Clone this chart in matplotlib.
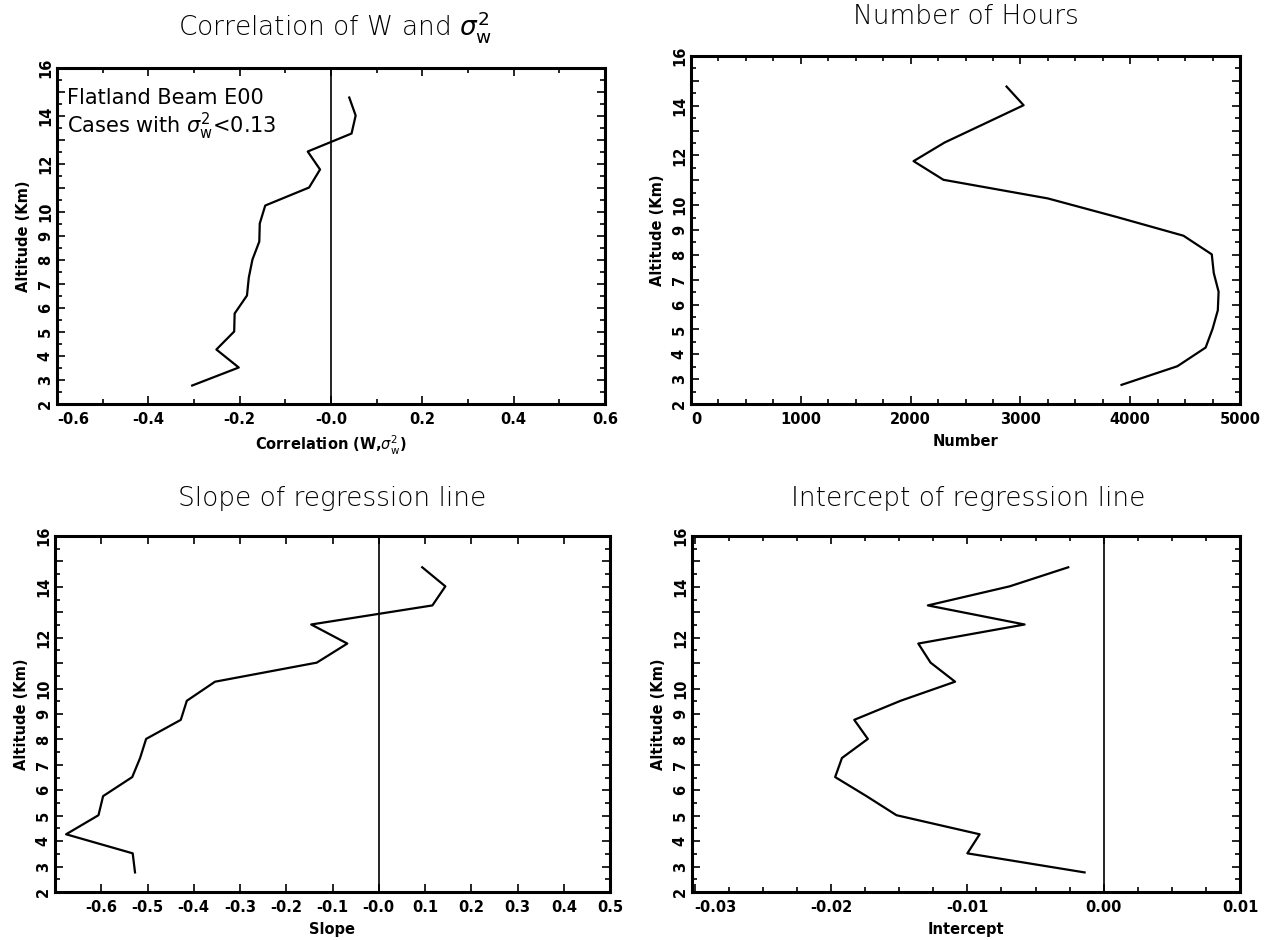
import matplotlib
matplotlib.use('Agg')
import matplotlib.pyplot as plt
from matplotlib.ticker import FixedLocator, FixedFormatter, MultipleLocator

plt.rcParams['font.family'] = ['DejaVu Sans']
plt.rcParams['mathtext.fontset'] = 'dejavusans'

# altitude levels (km), shared by all four profiles
altitude_km = [2.77, 3.52, 4.27, 5.02, 5.77, 6.52, 7.27, 8.02, 8.77,
               9.52, 10.27, 11.02, 11.77, 12.52, 13.27, 14.02, 14.77]

correlation = [-0.304, -0.202, -0.251, -0.212, -0.211, -0.184, -0.180, -0.172, -0.157,
               -0.156, -0.144, -0.048, -0.024, -0.051, 0.045, 0.054, 0.040]

n_hours = [3921, 4430, 4687, 4750, 4798, 4805, 4761, 4743, 4485,
           3880, 3250, 2299, 2027, 2310, 2670, 3029, 2874]

slope = [-0.527, -0.532, -0.676, -0.606, -0.596, -0.533, -0.516, -0.503, -0.428,
         -0.415, -0.354, -0.134, -0.068, -0.146, 0.116, 0.144, 0.094]

intercept = [-0.0014, -0.0100, -0.0091, -0.0152, -0.0174, -0.0197, -0.0192, -0.0173, -0.0183,
             -0.0149, -0.0109, -0.0127, -0.0136, -0.0058, -0.0129, -0.0069, -0.0026]

y_ticks = list(range(2, 17))
y_labels = ['2', '3', '4', '5', '6', '7', '8', '9', '10', '', '12', '', '14', '', '16']

corr_ticks = [-0.6, -0.4, -0.2, 0.0, 0.2, 0.4, 0.6]
corr_labels = ['-0.6', '-0.4', '-0.2', '-0.0', '0.2', '0.4', '0.6']
hours_ticks = [0, 1000, 2000, 3000, 4000, 5000]
hours_labels = ['0', '1000', '2000', '3000', '4000', '5000']
slope_ticks = [-0.6, -0.5, -0.4, -0.3, -0.2, -0.1, 0.0, 0.1, 0.2, 0.3, 0.4, 0.5]
slope_labels = ['-0.6', '-0.5', '-0.4', '-0.3', '-0.2', '-0.1', '-0.0',
                '0.1', '0.2', '0.3', '0.4', '0.5']
icpt_ticks = [-0.03, -0.02, -0.01, 0.0, 0.01]
icpt_labels = ['-0.03', '-0.02', '-0.01', '0.00', '0.01']

W, H = 1264, 940
fig = plt.figure(figsize=(W / 100, H / 100), dpi=100)
title_font = dict(fontsize=19, fontweight='light', ha='center', va='center')


def box(left, right, top, bottom):
    return [left / W, 1 - bottom / H, (right - left) / W, (bottom - top) / H]


def setup(ax, xlim, xticks, xlabels, xminor, xlabel, first_left=False):
    ax.set_xlim(*xlim)
    ax.set_ylim(2, 16)
    for s in ax.spines.values():
        s.set_linewidth(2.2)
    ax.xaxis.set_major_locator(FixedLocator(xticks))
    ax.xaxis.set_major_formatter(FixedFormatter(xlabels))
    if xminor:
        ax.xaxis.set_minor_locator(MultipleLocator(xminor))
    ax.yaxis.set_major_locator(FixedLocator(y_ticks))
    ax.yaxis.set_major_formatter(FixedFormatter(y_labels))
    ax.yaxis.set_minor_locator(MultipleLocator(0.5))
    ax.tick_params(which='both', direction='in', top=True, right=True, width=1.2)
    ax.tick_params(which='major', length=6, labelsize=10.5)
    ax.tick_params(which='minor', length=3.5)
    ax.tick_params(axis='x', pad=6)
    ax.tick_params(axis='y', pad=3)
    for lab in ax.get_xticklabels():
        lab.set_fontweight('bold')
    for lab in ax.get_yticklabels():
        lab.set_fontweight('bold')
        lab.set_rotation(90)
        lab.set_va('center')
    if first_left:
        ax.get_xticklabels()[0].set_ha('left')
    ax.set_xlabel(xlabel, fontsize=10.5, fontweight='bold', labelpad=5)
    ax.set_ylabel('Altitude (Km)', fontsize=10.5, fontweight='bold', labelpad=5)


lw = 1.6

# (a) correlation
ax1 = fig.add_axes(box(57, 605, 68, 404))
ax1.plot(correlation, altitude_km, color='k', lw=lw)
ax1.axvline(0, color='k', lw=1.2)
setup(ax1, (-0.6, 0.6), corr_ticks, corr_labels, 0.1,
      r'Correlation (W,$\sigma^2_\mathrm{w}$)', first_left=True)
ax1.text(0.018, 0.91, 'Flatland Beam E00', transform=ax1.transAxes,
         fontsize=15, va='center', ha='left')
ax1.text(0.018, 0.825, r'Cases with $\sigma^2_\mathrm{w}$<0.13', transform=ax1.transAxes,
         fontsize=15, va='center', ha='left')
fig.text(335 / W, 1 - 27 / H, r'Correlation of W and $\sigma^2_\mathrm{w}$', **title_font)

# (b) number of hours
ax2 = fig.add_axes(box(691, 1240, 56, 404))
ax2.plot(n_hours, altitude_km, color='k', lw=lw)
setup(ax2, (0, 5000), hours_ticks, hours_labels, 250, 'Number', first_left=True)
fig.text(966 / W, 1 - 17 / H, 'Number of Hours', **title_font)

# (c) slope
ax3 = fig.add_axes(box(55, 610, 536, 892))
ax3.plot(slope, altitude_km, color='k', lw=lw)
ax3.axvline(0, color='k', lw=1.2)
setup(ax3, (-0.7, 0.5), slope_ticks, slope_labels, None, 'Slope')
fig.text(332 / W, 1 - 498 / H, 'Slope of regression line', **title_font)

# (d) intercept
ax4 = fig.add_axes(box(692, 1240, 536, 892))
ax4.plot(intercept, altitude_km, color='k', lw=lw)
ax4.axvline(0, color='k', lw=1.2)
setup(ax4, (-0.0302, 0.01), icpt_ticks, icpt_labels, 0.0025, 'Intercept', first_left=True)
fig.text(968 / W, 1 - 498 / H, 'Intercept of regression line', **title_font)

fig.savefig('out.png', dpi=100, facecolor='w')
